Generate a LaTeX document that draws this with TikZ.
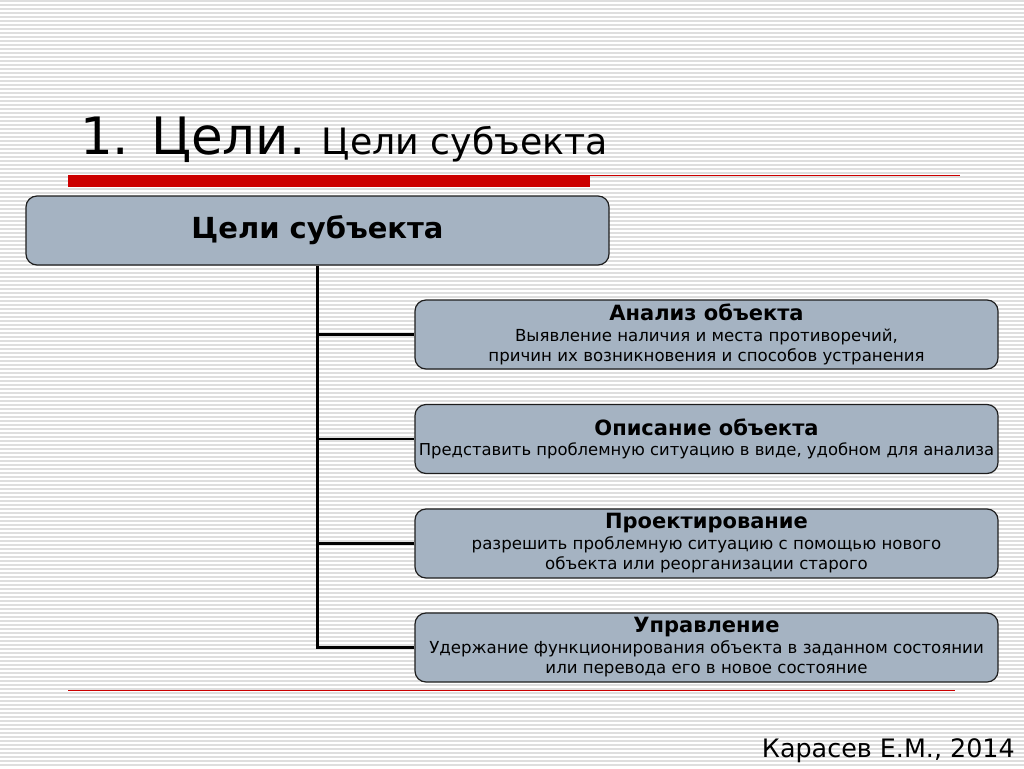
\documentclass[tikz,border=0pt]{standalone}
\usepackage{fontspec}
\setmainfont{DejaVu Sans}
\definecolor{boxfill}{RGB}{165,179,194}
\definecolor{boxline}{RGB}{30,30,30}
\definecolor{redbar}{RGB}{204,0,0}
\definecolor{stripe}{RGB}{222,222,222}
\tikzset{
  stripeline/.style={draw=stripe,line width=1.3pt},
  topbox/.style={draw=boxline,fill=boxfill,line width=1.2pt,rounded corners=11pt,
    minimum width=583pt,minimum height=69pt,inner sep=0pt,align=center,
    font=\fontsize{29}{34}\selectfont\bfseries},
  goalbox/.style={draw=boxline,fill=boxfill,line width=1.2pt,rounded corners=11pt,
    minimum width=583pt,minimum height=69pt,inner sep=0pt,align=center,
    font=\fontsize{16.6}{20.5}\selectfont},
  conn/.style={draw=black,line width=2.4pt},
}
\newcommand{\hd}[1]{{\fontsize{21}{20.5}\selectfont\bfseries #1}}
\begin{document}
\begin{tikzpicture}[x=1pt,y=-1pt]
\useasboundingbox (0,0) rectangle (1024,768);
\fill[white] (0,0) rectangle (1024,768);
\foreach \y in {1,5,...,768} \draw[stripeline] (0,\y) -- (1024,\y);
% title
\node[anchor=base west,inner sep=0pt] (title) at (80,154)
  {\fontsize{51.5}{55}\selectfont 1. Цели.\ \fontsize{36.3}{40}\selectfont Цели субъекта};
% red bars
\fill[redbar] (68,175) rectangle (590,187);
\draw[redbar,line width=1pt] (590,175.5) -- (960,175.5);
\draw[redbar,line width=1pt] (68,690.5) -- (955,690.5);
% boxes
\node[topbox] (main) at (317.5,230.5) {\raisebox{-3pt}{Цели субъекта}};
\node[goalbox] (b1) at (706.5,334.5) {\hd{Анализ объекта}\\Выявление наличия и места противоречий,\\причин их возникновения и способов устранения};
\node[goalbox] (b2) at (706.5,439) {\hd{Описание объекта}\\{\fontsize{16.4}{20.5}\selectfont Представить проблемную ситуацию в виде, удобном для анализа}};
\node[goalbox] (b3) at (706.5,543.5) {\hd{Проектирование}\\разрешить проблемную ситуацию с помощью нового\\объекта или реорганизации старого};
\node[goalbox] (b4) at (706.5,647.5) {\hd{Управление}\\Удержание функционирования объекта в заданном состоянии\\или перевода его в новое состояние};
% connectors
\draw[conn] (main.south) |- (b4.west);
\draw[conn] (main.south |- b1.west) -- (b1.west);
\draw[conn] (main.south |- b2.west) -- (b2.west);
\draw[conn] (main.south |- b3.west) -- (b3.west);
% author
\node[anchor=base east,inner sep=0pt] (author) at (1015,757) {\fontsize{25.4}{30}\selectfont Карасев Е.М., 2014};
\end{tikzpicture}
\end{document}
